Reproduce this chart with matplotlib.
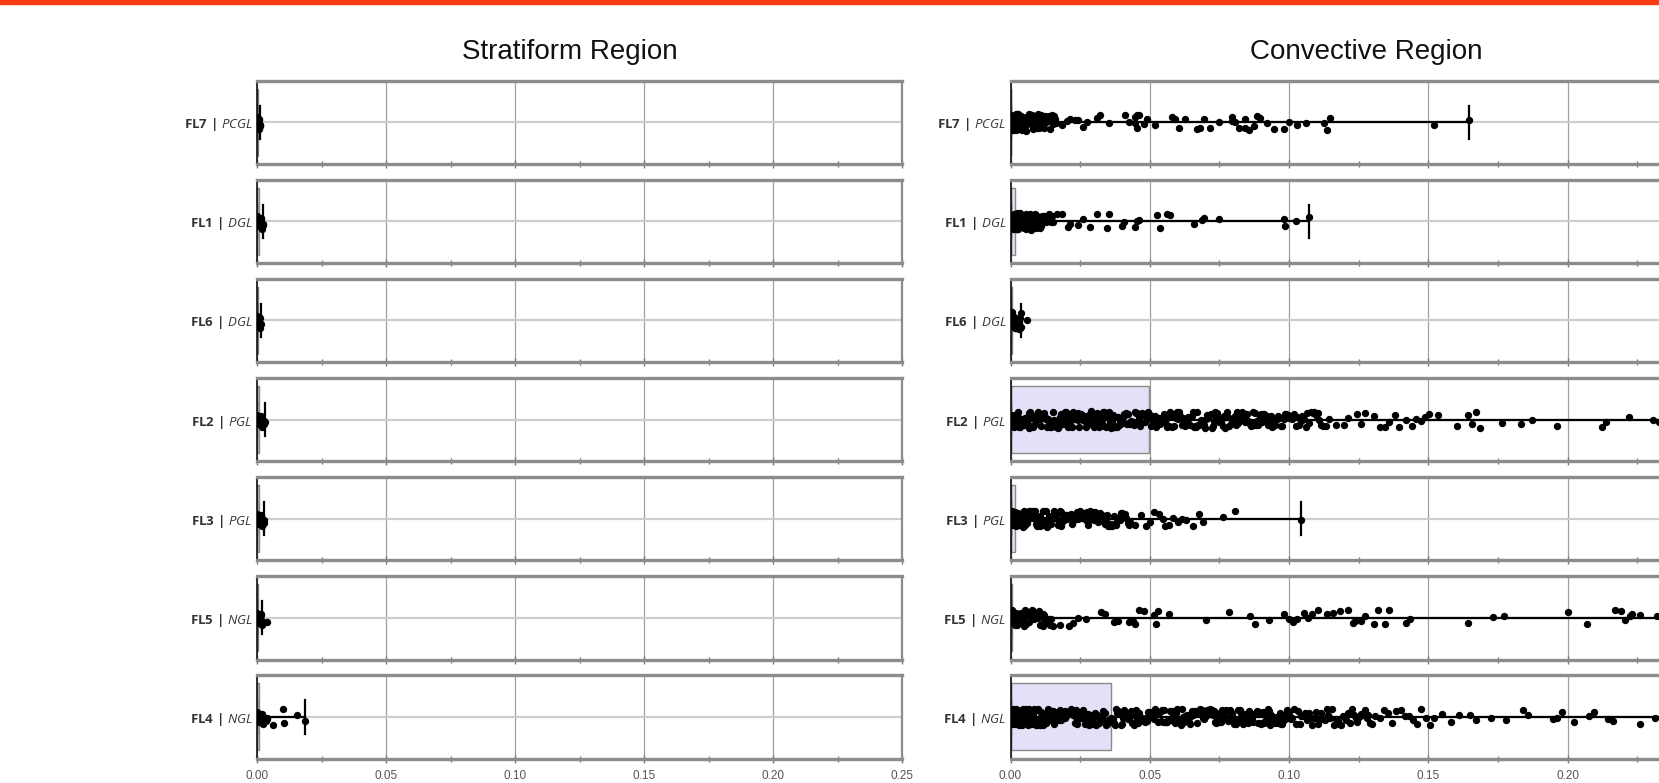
import numpy as np
import matplotlib
matplotlib.use("Agg")
import matplotlib.pyplot as plt
from matplotlib.ticker import MultipleLocator
from matplotlib.patches import Rectangle

# ---------------- data ----------------
categories = ["FL7", "FL1", "FL6", "FL2", "FL3", "FL5", "FL4"]
groups = ["PCGL", "DGL", "DGL", "PGL", "PGL", "NGL", "NGL"]
panel_titles = ["Stratiform Region", "Convective Region"]
xticks = [0.00, 0.05, 0.10, 0.15, 0.20, 0.25]
xtick_labels = ["0.00", "0.05", "0.10", "0.15", "0.20", "0.25"]

# all values below are in per-mille (x 1e-3)
strat_q1 = [0, 0, 0, 0, 0, 0, 0]
strat_med = [0, 0, 0, 0, 0, 0, 0]
strat_q3 = [0.4, 0.6, 0.4, 0.6, 0.6, 0.4, 0.8]
strat_whislo = [0, 0, 0, 0, 0, 0, 0]
strat_whishi = [1.2, 2.4, 1.4, 3.0, 2.8, 2.0, 18.6]

conv_q1 = [0, 0, 0, 0, 0, 0, 0]
conv_med = [0, 0, 0, 0, 0, 0, 0]
conv_q3 = [0.3, 1.6, 0.4, 49.7, 1.7, 0.4, 35.9]
conv_whislo = [0, 0, 0, 0, 0, 0, 0]
conv_whishi = [164.5, 107.1, 3.6, 300.0, 104.4, 300.0, 300.0]

strat_fl7 = [0, 0.1, 0.2, 0.3, 0.4, 0.5, 0.6, 0.7, 0.8, 0.9, 1.0, 1.1, 1.2]
strat_fl1 = [0, 0.2, 0.4, 0.6, 0.8, 1.0, 1.2, 1.4, 1.6, 1.8, 2.0, 2.2, 2.4]
strat_fl6 = [0, 0.1, 0.2, 0.3, 0.4, 0.5, 0.6, 0.8, 1.0, 1.2, 1.4]
strat_fl2 = [0, 0.2, 0.4, 0.6, 0.8, 1.0, 1.2, 1.4, 1.6, 1.8, 2.0, 2.2, 2.4, 2.6, 2.8, 3.0]
strat_fl3 = [0, 0.2, 0.4, 0.6, 0.8, 1.0, 1.2, 1.4, 1.6, 1.8, 2.0, 2.2, 2.4, 2.6, 2.8]
strat_fl5 = [0, 0.2, 0.4, 0.6, 0.8, 1.0, 1.2, 1.4, 1.6, 1.8, 2.0, 3.8]
strat_fl4 = [0, 0.2, 0.4, 0.6, 0.8, 1.0, 1.3, 1.6, 1.9, 2.2, 2.5, 2.8, 3.1, 3.4,
             3.7, 4.0, 6.3, 10.0, 10.6, 15.4, 18.6]

conv_fl7 = [0, 0.1, 0.2, 0.3, 0.4, 0.5, 0.6, 0.7, 0.8, 0.9, 1.0, 1.1, 1.2, 1.4, 1.5,
            1.7, 1.8, 2.0, 2.1, 2.3, 2.5, 2.6, 2.8, 3.0, 3.2, 3.4, 3.6, 3.8, 4.0, 4.2,
            4.5, 4.7, 5.0, 5.3, 5.5, 5.8, 6.1, 6.4, 6.7, 7.0, 7.3, 7.6, 8.0, 8.3, 8.7,
            9.0, 9.4, 9.8, 10.2, 10.6, 11.0, 11.4, 11.9, 12.4, 12.9, 13.4, 14.0, 14.6,
            15.2, 15.8, 16.4,
            0.05, 0.15, 0.25, 0.35, 0.45, 0.55, 0.65, 0.75, 0.85, 0.95, 1.05, 1.15,
            1.3, 1.45, 1.6, 1.75, 1.9, 2.05, 2.2, 2.4, 2.55, 2.7, 2.9, 3.1, 3.3, 3.5,
            3.7, 3.9, 4.1, 4.35, 4.6, 4.85, 5.15, 5.4, 5.65, 5.95, 6.25, 6.55, 6.85,
            7.15, 7.45, 7.8, 8.15, 8.5, 8.85, 9.2, 9.6, 10.0, 10.4, 10.8, 11.2, 11.6,
            12.1, 12.6, 13.1, 13.7, 14.3, 14.9, 15.5,
            18.4, 20.2, 21.4, 23.2, 24.4, 26.2, 27.4, 31.0, 32.2, 35.2, 41.2, 42.4,
            44.8, 44.8, 45.4, 45.4, 46.0, 47.8, 49.0, 52.0, 58.0, 59.2, 60.4, 62.8,
            66.9, 68.1, 69.3, 71.7, 74.7, 79.5, 79.5, 80.7, 81.9, 84.3, 84.3, 85.5,
            87.3, 88.5, 89.7, 92.1, 94.5, 98.1, 99.9, 102.9, 105.9, 112.4, 113.6,
            114.8, 151.9, 164.5]
conv_fl1 = [0, 0.1, 0.2, 0.3, 0.4, 0.5, 0.6, 0.7, 0.8, 0.9, 1.0, 1.2, 1.3, 1.5, 1.7,
            1.9, 2.1, 2.3, 2.5, 2.7, 2.9, 3.1, 3.4, 3.6, 3.9, 4.2, 4.5, 4.8, 5.1, 5.4,
            5.7, 6.0, 6.4, 6.8, 7.2, 7.6, 8.0, 8.4, 8.8, 9.2, 9.7, 10.2, 10.7, 11.2,
            11.7, 12.2, 12.8, 13.4, 14.0, 14.7, 15.4,
            0.05, 0.15, 0.25, 0.35, 0.45, 0.55, 0.65, 0.75, 0.85, 0.95, 1.1, 1.25,
            1.4, 1.6, 1.8, 2.0, 2.2, 2.4, 2.6, 2.8, 3.0, 3.25, 3.5, 3.75, 4.05, 4.35,
            4.65, 4.95, 5.25, 5.55, 5.85, 6.2, 6.6, 7.0, 7.4, 7.8, 8.2, 8.6, 9.0,
            9.45, 9.95, 10.45, 10.95, 11.45, 11.95, 12.5, 13.1, 13.7, 14.35, 15.0,
            16.6, 18.4, 20.8, 21.4, 24.4, 26.2, 28.6, 31.0, 34.6, 35.2, 40.0, 40.6,
            44.8, 45.4, 46.0, 52.5, 53.7, 56.1, 57.3, 65.7, 68.7, 69.3, 74.7, 98.1,
            98.7, 102.3, 107.1]
conv_fl6 = [0, 0.2, 0.4, 0.6, 0.8, 1.0, 1.2, 1.4, 1.6, 1.8, 2.0, 2.2, 2.4, 2.6, 2.8,
            3.0, 3.3, 3.6, 3.8,
            0.1, 0.3, 0.5, 0.7, 0.9, 1.1, 1.3, 1.5, 1.7, 1.9, 2.1, 2.3, 2.5, 2.7,
            2.9, 3.15, 3.45, 5.8]
conv_fl2 = [0, 0.3, 0.6, 1.0, 1.3, 1.7, 2.0, 2.4, 2.8, 3.2, 3.6, 4.0, 4.5, 5.0, 5.5,
            6.0, 6.5, 7.0, 7.6, 8.2, 8.8, 9.4, 10.0, 10.6, 11.2, 11.8, 12.4, 13.0, 13.6,
            14.2, 14.8, 15.4, 16.0, 16.6, 17.2, 17.8, 18.4, 19.0, 19.6, 20.2, 20.8,
            21.4, 22.0, 22.6, 23.2, 23.8, 24.4, 25.0, 25.6, 26.2, 26.8, 27.4, 28.0,
            28.6, 29.2, 29.8, 30.4, 31.0, 31.6, 32.2, 32.8, 33.4, 34.0, 34.6, 35.2,
            35.8, 36.4, 37.0, 37.6, 38.2, 38.8, 39.4, 40.0, 40.6, 41.2, 41.8, 42.4,
            43.0, 43.6, 44.2, 44.8, 45.4, 46.0, 46.6, 47.2, 47.8, 48.4, 49.0, 49.6,
            50.5, 51.3, 52.0, 52.8, 53.5, 54.3, 55.0, 55.8, 56.6, 57.4, 58.2, 59.0,
            59.8, 60.6, 61.4, 62.2, 63.0, 63.8, 64.6, 65.4, 66.2, 67.0, 67.8, 68.6,
            69.4, 70.2, 71.0, 71.8, 72.6, 73.4, 74.2, 75.0, 75.8, 76.6, 77.4, 78.2,
            79.0, 79.8, 80.6, 81.4, 82.2, 83.0, 83.8, 84.6, 85.4, 86.2, 87.0, 87.8,
            88.6, 89.4, 90.2, 91.0, 91.8, 92.6, 93.4, 94.2, 95.0, 96.0, 97.0, 98.0,
            99.0, 100.0, 101.2, 102.4, 103.6, 104.8, 106.0, 107.2, 108.4, 109.6,
            110.8, 112.0, 113.2, 114.4,
            0.15, 0.45, 0.8, 1.15, 1.5, 1.85, 2.2, 2.6, 3.0, 3.4, 3.8, 4.25, 4.75,
            5.25, 5.75, 6.25, 6.75, 7.3, 7.9, 8.5, 9.1, 9.7, 10.3, 10.9, 11.5, 12.1,
            12.7, 13.3, 13.9, 14.5, 15.1, 15.7, 16.3, 16.9, 17.5, 18.1, 18.7, 19.3,
            19.9, 20.5, 21.1, 21.7, 22.3, 22.9, 23.5, 24.1, 24.7, 25.3, 25.9, 26.5,
            27.1, 27.7, 28.3, 28.9, 29.5, 30.1, 30.7, 31.3, 31.9, 32.5, 33.1, 33.7,
            34.3, 34.9, 35.5, 36.1, 36.7, 37.3, 37.9, 38.5, 39.1, 39.7, 40.3, 40.9,
            41.5, 42.1, 42.7, 43.3, 43.9, 44.5, 45.1, 45.7, 46.3, 46.9, 47.5, 48.1,
            48.7, 49.3, 50.0, 50.9, 51.7, 52.4, 53.2, 53.9, 54.7, 55.4, 56.2, 57.0,
            57.8, 58.6, 59.4, 60.2, 61.0, 61.8, 62.6, 63.4, 64.2, 65.0, 65.8, 66.6,
            67.4, 68.2, 69.0, 69.8, 70.6, 71.4, 72.2, 73.0, 73.8, 74.6, 75.4, 76.2,
            77.0, 77.8, 78.6, 79.4, 80.2, 81.0, 81.8, 82.6, 83.4, 84.2, 85.0, 85.8,
            86.6, 87.4, 88.2, 89.0, 89.8, 90.6, 91.4, 92.2, 93.0, 93.8, 94.6, 95.5,
            96.5, 97.5, 98.5, 99.5, 100.6, 101.8, 103.0, 104.2, 105.4, 106.6, 107.8,
            109.0, 110.2, 111.4,
            116.7, 119.7, 121.2, 124.3, 125.8, 127.4, 130.4, 132.7, 134.3, 135.8,
            138.1, 139.6, 141.9, 144.2, 145.7, 147.3, 148.8, 150.3, 153.4, 160.3,
            164.1, 165.6, 167.2, 168.7, 176.4, 183.2, 187.1, 196.3, 212.3, 213.8,
            222.0, 230.7, 232.7]
conv_fl3 = [0, 0.2, 0.4, 0.6, 0.8, 1.0, 1.2, 1.5, 1.8, 2.1, 2.4, 2.7, 3.0, 3.3, 3.7,
            4.1, 4.5, 4.9, 5.3, 5.7, 6.1, 6.5, 7.0, 7.5, 8.0, 8.5, 9.0, 9.5, 10.0,
            10.5, 11.0, 11.5, 12.0, 12.6, 13.2, 13.8, 14.4, 15.0, 15.6, 16.2, 16.8,
            17.4, 18.0, 18.6, 19.2, 19.8, 20.4, 21.0, 21.6, 22.2, 22.8, 23.4, 24.0,
            24.7, 25.4, 26.1, 26.8, 27.5, 28.2, 28.9, 29.6, 30.3, 31.0, 31.8, 32.6,
            33.4, 34.2, 35.0, 35.8, 36.6, 37.5, 38.4, 39.3, 40.2, 41.1, 42.0, 43.0,
            0.1, 0.3, 0.5, 0.7, 0.9, 1.1, 1.35, 1.65, 1.95, 2.25, 2.55, 2.85, 3.15,
            3.5, 3.9, 4.3, 4.7, 5.1, 5.5, 5.9, 6.3, 6.75, 7.25, 7.75, 8.25, 8.75,
            9.25, 9.75, 10.25, 10.75, 11.25, 11.75, 12.3, 12.9, 13.5, 14.1, 14.7,
            15.3, 15.9, 16.5, 17.1, 17.7, 18.3, 18.9, 19.5, 20.1, 20.7, 21.3, 21.9,
            22.5, 23.1, 23.7, 24.4, 25.0, 25.7, 26.4, 27.1, 27.8, 28.5, 29.2, 30.0,
            30.7, 31.4, 32.2, 33.0, 33.8, 34.6, 35.4, 36.2, 37.0, 38.0, 38.9, 39.8,
            40.7, 41.6, 42.5,
            44.7, 47.0, 48.6, 50.1, 51.6, 53.2, 54.7, 55.4, 57.0, 58.5, 60.0, 61.6,
            63.1, 65.4, 67.7, 69.2, 76.1, 80.7, 104.4]
conv_fl5 = [0, 0.2, 0.4, 0.6, 0.8, 1.0, 1.3, 1.6, 1.9, 2.2, 2.5, 2.8, 3.2, 3.6, 4.0,
            4.4, 4.8, 5.2, 5.7, 6.2, 6.7, 7.2, 7.7, 8.2, 8.8, 9.4, 10.0, 10.6, 11.2,
            11.8, 12.5, 13.2, 13.9, 14.6, 15.3,
            0.1, 0.3, 0.5, 0.7, 0.9, 1.15, 1.45, 1.75, 2.05, 2.35, 2.65, 3.0, 3.4,
            3.8, 4.2, 4.6, 5.0, 5.45, 5.95, 6.45, 6.95, 7.45, 7.95, 8.5, 9.1, 9.7,
            10.3, 10.9, 11.5, 12.15, 12.85, 13.55, 14.25,
            17.9, 21.0, 22.5, 24.1, 27.1, 32.5, 34.0, 37.1, 38.6, 42.4, 44.0, 44.7,
            46.2, 47.8, 51.6, 52.4, 53.1, 57.0, 70.0, 78.4, 86.0, 87.6, 92.9, 98.3,
            99.8, 101.3, 102.9, 105.2, 106.7, 108.2, 110.5, 113.6, 115.9, 118.2,
            121.3, 122.8, 123.6, 125.9, 127.4, 130.4, 132.0, 134.3, 135.8, 141.9,
            143.4, 164.1, 173.3, 177.1, 200.1, 207.0, 216.9, 219.2, 220.7, 222.2,
            223.0, 226.1, 232.2]
conv_fl4 = [0, 0.2, 0.4, 0.6, 0.8, 1.0, 1.3, 1.5, 1.8, 2.0, 2.3, 2.6, 2.9, 3.2, 3.5,
            3.8, 4.1, 4.5, 4.9, 5.3, 5.7, 6.1, 6.5, 6.9, 7.3, 7.7, 8.1, 8.5, 9.0, 9.4,
            9.8, 10.3, 10.7, 11.2, 11.6, 12.1, 12.5, 13.0, 13.5, 14.0, 14.5, 15.0,
            15.5, 16.0, 16.5, 17.0, 17.5, 18.0, 18.6, 19.1, 19.7, 20.2, 20.8, 21.3,
            21.9, 22.4, 23.0, 23.6, 24.2, 24.8, 25.4, 26.0, 26.6, 27.2, 27.8, 28.4,
            29.0, 29.6, 30.2, 30.8, 31.4, 32.0, 32.6, 33.2, 33.8, 34.4, 35.0, 35.6,
            36.3, 37.0, 37.8, 38.5, 39.3, 40.0, 40.8, 41.5, 42.3, 43.1, 43.9, 44.7,
            45.5, 46.3, 47.1, 47.9, 48.7, 49.5, 50.3, 51.1, 51.9, 52.7, 53.5, 54.3,
            55.1, 55.9, 56.7, 57.5, 58.3, 59.1, 59.9, 60.7, 61.5, 62.3, 63.1, 63.9,
            64.7, 65.5, 66.3, 67.1, 67.9, 68.7, 69.5, 70.3, 71.1, 71.9, 72.7, 73.5,
            74.3, 75.1, 75.9, 76.7, 77.5, 78.3, 79.1, 79.9, 80.7, 81.5, 82.3, 83.1,
            83.9, 84.7, 85.5, 86.3, 87.1, 87.9, 88.7, 89.5, 90.3, 91.1, 91.9, 92.7,
            93.5, 94.3, 95.1, 95.9, 96.7, 97.5, 98.3, 99.1,
            100.0, 101.2, 102.5, 103.8, 105.0, 106.3, 107.6, 108.9, 110.2, 111.5,
            112.8, 114.1, 115.4, 116.7, 118.0, 119.3, 120.6, 121.9, 123.2, 124.5,
            125.8, 127.1, 128.4, 129.7, 131.0, 132.5, 134.0, 135.5, 137.0, 138.5,
            140.0, 141.5, 143.0, 144.5, 146.0, 147.5, 149.0, 150.5, 152.0,
            0.1, 0.3, 0.5, 0.7, 0.9, 1.15, 1.4, 1.65, 1.9, 2.15, 2.45, 2.75, 3.05,
            3.35, 3.65, 3.95, 4.3, 4.7, 5.1, 5.5, 5.9, 6.3, 6.7, 7.1, 7.5, 7.9, 8.3,
            8.75, 9.2, 9.6, 10.05, 10.5, 10.95, 11.4, 11.85, 12.3, 12.75, 13.25,
            13.75, 14.25, 14.75, 15.25, 15.75, 16.25, 16.75, 17.25, 17.75, 18.3,
            18.85, 19.4, 19.95, 20.5, 21.05, 21.6, 22.15, 22.7, 23.3, 23.9, 24.5,
            25.1, 25.7, 26.3, 26.9, 27.5, 28.1, 28.7, 29.3, 29.9, 30.5, 31.1, 31.7,
            32.3, 32.9, 33.5, 34.1, 34.7, 35.3, 35.9, 36.7, 37.4, 38.2, 38.9, 39.7,
            40.4, 41.2, 41.9, 42.7, 43.5, 44.3, 45.1, 45.9, 46.7, 47.5, 48.3, 49.1,
            49.9, 50.7, 51.5, 52.3, 53.1, 53.9, 54.7, 55.5, 56.3, 57.1, 57.9, 58.7,
            59.5, 60.3, 61.1, 61.9, 62.7, 63.5, 64.3, 65.1, 65.9, 66.7, 67.5, 68.3,
            69.1, 69.9, 70.7, 71.5, 72.3, 73.1, 73.9, 74.7, 75.5, 76.3, 77.1, 77.9,
            78.7, 79.5, 80.3, 81.1, 81.9, 82.7, 83.5, 84.3, 85.1, 85.9, 86.7, 87.5,
            88.3, 89.1, 89.9, 90.7, 91.5, 92.3, 93.1, 93.9, 94.7, 95.5, 96.3, 97.1,
            97.9, 98.7, 99.5, 100.6, 101.9, 103.2, 104.4, 105.7, 107.0, 108.3, 109.6,
            110.9, 112.2, 113.5, 114.8, 116.1, 117.4, 118.7, 120.0, 121.3, 122.6,
            123.9, 125.2, 126.5, 127.8, 129.1,
            154.9, 158.0, 161.1, 164.9, 167.2, 172.6, 177.9, 184.0, 185.6, 194.8,
            196.3, 197.8, 202.4, 207.7, 209.3, 214.6, 216.2, 226.1, 231.5]

strat_points = [strat_fl7, strat_fl1, strat_fl6, strat_fl2, strat_fl3, strat_fl5, strat_fl4]
conv_points = [conv_fl7, conv_fl1, conv_fl6, conv_fl2, conv_fl3, conv_fl5, conv_fl4]
SCALE = 1e-3

# ---------------- style ----------------
plt.rcParams['mathtext.fontset'] = 'custom'
plt.rcParams['mathtext.rm'] = 'Open Sans'
plt.rcParams['mathtext.it'] = 'Open Sans:italic'
plt.rcParams['mathtext.bf'] = 'Open Sans:bold'

W, H = 1659, 783
fig = plt.figure(figsize=(W / 100, H / 100), dpi=100)
fig.patch.set_facecolor('white')

# red strip along the top edge
fig.add_artist(Rectangle((0, 1 - 4 / H), 1, 4 / H, transform=fig.transFigure,
                         color='#ff3b14', zorder=10))

col_x = [(257, 902), (1010.5, 1707)]
row_top0, row_step, row_h = 80.5, 99.1, 83.5
JIT = 0.1


def jitter(n):
    # deterministic strip-plot jitter (vertical offsets within the band)
    k = np.arange(1, n + 1, dtype=float)
    u = (np.sin(k * 91.3458 + 3.17) * 47453.5453) % 1.0
    return (u - 0.5) * 2 * JIT


def draw_panel(ax, pts, q1, med, q3, wlo, whi, label, bottom):
    vals = np.asarray(pts) * SCALE
    stats = [dict(med=med * SCALE, q1=q1 * SCALE, q3=q3 * SCALE,
                  whislo=wlo * SCALE, whishi=whi * SCALE, fliers=[])]
    ax.bxp(stats, positions=[0], widths=0.8, capwidths=0.4,
           orientation='horizontal', patch_artist=True, manage_ticks=False,
           boxprops=dict(facecolor='#e3e0f7', edgecolor='#8a8a8a', linewidth=1.0),
           whiskerprops=dict(color='black', linewidth=1.6),
           capprops=dict(color='black', linewidth=1.6),
           medianprops=dict(color='black', linewidth=1.6), zorder=2)
    ax.scatter(vals, jitter(len(vals)), s=28, c='black', linewidths=0, zorder=3)
    ax.set_xlim(0, 0.25)
    ax.set_ylim(-0.5, 0.5)
    ax.set_yticks([0])
    ax.set_yticklabels([label])
    ax.tick_params(axis='y', length=0, pad=3, labelsize=9.5, labelcolor='#333333')
    ax.set_xticks(xticks)
    ax.xaxis.set_minor_locator(MultipleLocator(0.025))
    ax.tick_params(axis='x', which='major', direction='inout', length=6, width=1,
                   color='#777777', labelsize=8.5, labelcolor='#555555', pad=5,
                   labelbottom=bottom)
    ax.tick_params(axis='x', which='minor', direction='inout', length=4, width=1,
                   color='#777777')
    if bottom:
        ax.set_xticklabels(xtick_labels, family='Liberation Sans')
    ax.grid(axis='x', which='major', color='#a0a0a0', linewidth=0.9, zorder=0)
    ax.grid(axis='y', color='#cdcdcd', linewidth=1.6, zorder=0)
    ax.set_axisbelow(True)
    for s in ('top', 'bottom'):
        ax.spines[s].set_color('#8c8c8c')
        ax.spines[s].set_linewidth(2.4)
    ax.spines['right'].set_color('#8c8c8c')
    ax.spines['right'].set_linewidth(1.6)
    ax.spines['left'].set_color('#222222')
    ax.spines['left'].set_linewidth(1.3)


for c in range(2):
    x0, x1 = col_x[c]
    for r in range(7):
        top = row_top0 + r * row_step
        ax = fig.add_axes([x0 / W, 1 - (top + row_h) / H, (x1 - x0) / W, row_h / H])
        lab = r"$\mathbf{%s\ |\ }\mathit{%s}$" % (categories[r], groups[r])
        if c == 0:
            draw_panel(ax, strat_points[r], strat_q1[r], strat_med[r], strat_q3[r],
                       strat_whislo[r], strat_whishi[r], lab, r == 6)
        else:
            draw_panel(ax, conv_points[r], conv_q1[r], conv_med[r], conv_q3[r],
                       conv_whislo[r], conv_whishi[r], lab, r == 6)
            if r == 6:
                # the last tick label falls outside the (cropped) figure
                for t in ax.get_xticklabels():
                    if t.get_position()[0] > 0.24:
                        t.set_visible(False)

fig.text(570 / W, 1 - 52 / H, panel_titles[0], ha='center', va='center',
         fontsize=20, family='Liberation Sans', color='#111111')
fig.text(1366 / W, 1 - 52 / H, panel_titles[1], ha='center', va='center',
         fontsize=20, family='Liberation Sans', color='#111111')

fig.savefig('out.png', dpi=100, facecolor='white')
